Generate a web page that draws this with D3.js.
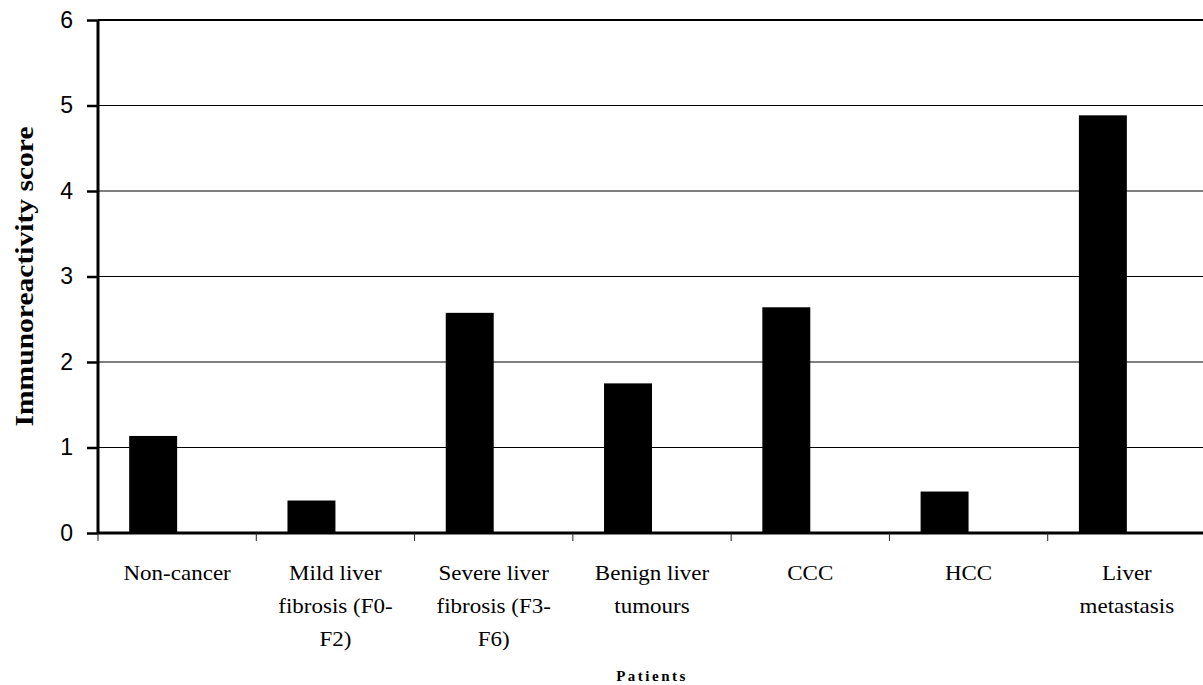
<!DOCTYPE html>
<html>
<head>
<meta charset="utf-8">
<script src="https://cdn.jsdelivr.net/npm/d3@7"></script>
<style>
  html, body { margin: 0; padding: 0; background: #fff; }
  svg { display: block; }
</style>
</head>
<body>
<svg id="chart" width="1203" height="685"></svg>
<script>
const categories = ["Non-cancer", "Mild liver fibrosis (F0-F2)", "Severe liver fibrosis (F3-F6)", "Benign liver tumours", "CCC", "HCC", "Liver metastasis"];
const categoryLines = [["Non-cancer"], ["Mild liver", "fibrosis (F0-", "F2)"], ["Severe liver", "fibrosis (F3-", "F6)"], ["Benign liver", "tumours"], ["CCC"], ["HCC"], ["Liver", "metastasis"]];
const scores = [1.135, 0.38, 2.575, 1.75, 2.64, 0.485, 4.885];
const yTicks = [0, 1, 2, 3, 4, 5, 6];
const yTitle = "Immunoreactivity score";
const xTitle = "Patients";

(function () {
const svg = d3.select("#chart");
const mLeft = 98, mRight = 1206, mTop = 20, mBottom = 533;

const x = d3.scaleBand().domain(categories).range([mLeft, mRight]).paddingInner(0).paddingOuter(0);
const y = d3.scaleLinear().domain([0, 6]).range([mBottom, mTop]);

// gridlines
svg.append("g").selectAll("line").data(yTicks.filter(d => d > 0)).join("line")
  .attr("x1", mLeft).attr("x2", 1203)
  .attr("y1", d => y(d)).attr("y2", d => y(d))
  .attr("stroke", "#000")
  .attr("stroke-width", d => d === 6 ? 2 : 1);

// bars
const bw = x.bandwidth();
svg.append("g").selectAll("rect").data(scores).join("rect")
  .attr("x", (d, i) => x(categories[i]) + bw * 0.197)
  .attr("width", bw * 0.303)
  .attr("y", d => y(d))
  .attr("height", d => y(0) - y(d))
  .attr("fill", "#000");

// y axis
const yAxis = d3.axisLeft(y).tickValues(yTicks).tickSize(11).tickPadding(14).tickFormat(d3.format("d"));
const gy = svg.append("g").attr("transform", `translate(${mLeft},0)`).call(yAxis);
gy.select(".domain").attr("stroke-width", 3).attr("d", `M0,${mTop}V${mBottom}`);
gy.selectAll(".tick line").attr("stroke-width", 2.5);
gy.selectAll(".tick text").attr("font-family", "'Liberation Sans', Arial, sans-serif").attr("font-size", 23).attr("fill", "#000");

// x axis
const xBoundaries = categories.map(c => x(c));
svg.append("line").attr("x1", mLeft).attr("x2", 1203).attr("y1", mBottom).attr("y2", mBottom)
  .attr("stroke", "#000").attr("stroke-width", 3);
svg.append("g").selectAll("line").data(xBoundaries).join("line")
  .attr("x1", d => d).attr("x2", d => d)
  .attr("y1", mBottom).attr("y2", mBottom + 8)
  .attr("stroke", "#222").attr("stroke-width", 1);

// category labels
const lab = svg.append("g");
categories.forEach((c, i) => {
  const cx = x(c) + bw / 2;
  const t = lab.append("text")
    .attr("transform", `translate(${cx},0) scale(1.15,1)`)
    .attr("text-anchor", "middle")
    .attr("font-family", "'Liberation Serif', 'Times New Roman', serif")
    .attr("font-size", 20)
    .attr("fill", "#000");
  categoryLines[i].forEach((ln, j) => {
    t.append("tspan").attr("x", 0).attr("y", 580 + j * 33).text(ln);
  });
});

// axis titles
svg.append("text")
  .attr("transform", `translate(${mLeft + (mRight - mLeft) / 2},681)`)
  .attr("text-anchor", "middle")
  .attr("font-family", "'Liberation Serif', 'Times New Roman', serif")
  .attr("font-weight", "bold")
  .attr("font-size", 15)
  .attr("letter-spacing", 2.5)
  .text(xTitle);

svg.append("text")
  .attr("transform", `translate(33,${(mTop + mBottom) / 2}) rotate(-90)`)
  .attr("text-anchor", "middle")
  .attr("font-family", "'Liberation Serif', 'Times New Roman', serif")
  .attr("font-weight", "bold")
  .attr("font-size", 26)
  .attr("textLength", 300)
  .attr("lengthAdjust", "spacingAndGlyphs")
  .text(yTitle);
})();
</script>
</body>
</html>
